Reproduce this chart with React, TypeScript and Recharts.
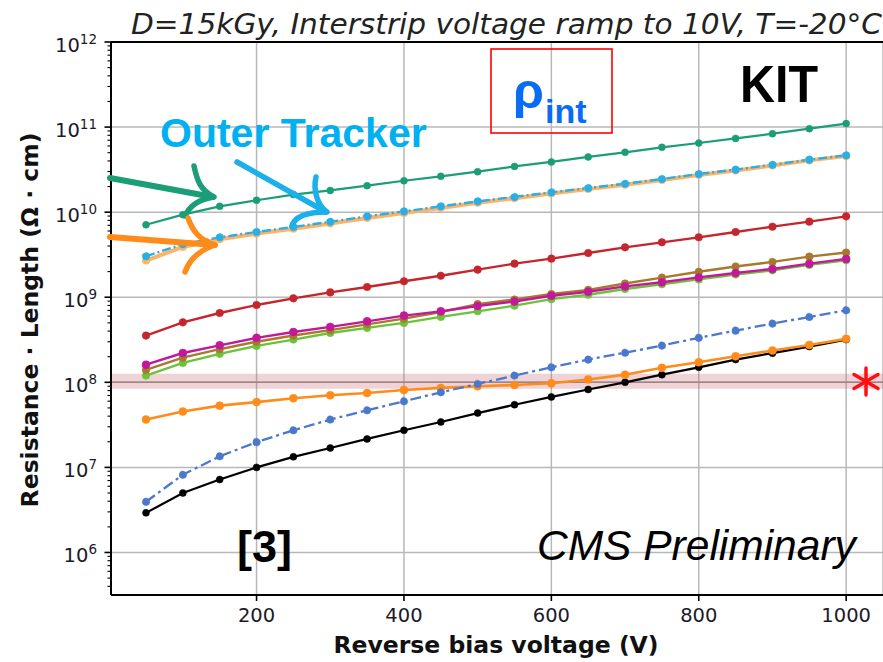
import {
  LineChart, Line, XAxis, YAxis, CartesianGrid, ReferenceArea, ReferenceLine
} from 'recharts';

// reverse bias voltage (V)
const voltages = [50, 100, 150, 200, 250, 300, 350, 400, 450, 500, 550, 600, 650, 700, 750, 800, 850, 900, 950, 1000];

// resistance * length (Ohm cm), one array per sensor
const teal = [7.1e9, 9.35e9, 1.17e10, 1.38e10, 1.61e10, 1.8e10, 2.05e10, 2.34e10, 2.64e10, 2.99e10, 3.45e10, 3.89e10, 4.46e10, 5.05e10, 5.78e10, 6.5e10, 7.36e10, 8.36e10, 9.57e10, 1.1e11];
const skyBlue = [3.03e9, 4.2e9, 5.06e9, 5.85e9, 6.7e9, 7.7e9, 8.93e9, 1.02e10, 1.17e10, 1.34e10, 1.51e10, 1.71e10, 1.92e10, 2.16e10, 2.45e10, 2.81e10, 3.16e10, 3.61e10, 4.14e10, 4.65e10];
const lightOrange = [2.7e9, 3.9e9, 4.8e9, 5.6e9, 6.4e9, 7.35e9, 8.55e9, 9.75e9, 1.12e10, 1.29e10, 1.46e10, 1.66e10, 1.87e10, 2.1e10, 2.39e10, 2.74e10, 3.09e10, 3.53e10, 4.06e10, 4.56e10];
const red = [3.54e8, 5.07e8, 6.53e8, 8.1e8, 9.7e8, 1.14e9, 1.32e9, 1.54e9, 1.79e9, 2.11e9, 2.48e9, 2.84e9, 3.31e9, 3.86e9, 4.42e9, 5.06e9, 5.85e9, 6.75e9, 7.73e9, 8.93e9];
const brown = [1.4e8, 1.95e8, 2.45e8, 3.0e8, 3.55e8, 4.1e8, 4.8e8, 5.6e8, 6.7e8, 8.3e8, 9.4e8, 1.09e9, 1.22e9, 1.45e9, 1.7e9, 1.99e9, 2.3e9, 2.6e9, 3.0e9, 3.35e9];
const magenta = [1.61e8, 2.21e8, 2.72e8, 3.33e8, 3.9e8, 4.48e8, 5.21e8, 6.08e8, 6.83e8, 7.9e8, 8.9e8, 1.04e9, 1.16e9, 1.34e9, 1.5e9, 1.71e9, 1.93e9, 2.15e9, 2.48e9, 2.82e9];
const green = [1.2e8, 1.69e8, 2.16e8, 2.68e8, 3.18e8, 3.8e8, 4.36e8, 4.99e8, 5.87e8, 6.83e8, 7.96e8, 9.5e8, 1.07e9, 1.25e9, 1.42e9, 1.62e9, 1.85e9, 2.07e9, 2.4e9, 2.72e9];
const orange = [3.65e7, 4.53e7, 5.32e7, 5.85e7, 6.5e7, 7.03e7, 7.5e7, 8.13e7, 8.59e7, 8.97e7, 9.31e7, 9.73e7, 1.08e8, 1.23e8, 1.48e8, 1.72e8, 2.02e8, 2.36e8, 2.75e8, 3.24e8];
const blueDash = [3.94e6, 8.2e6, 1.35e7, 1.98e7, 2.73e7, 3.65e7, 4.69e7, 5.98e7, 7.63e7, 9.57e7, 1.2e8, 1.5e8, 1.85e8, 2.23e8, 2.7e8, 3.33e8, 4.05e8, 4.9e8, 5.86e8, 7.02e8];
const black = [2.92e6, 5.0e6, 7.19e6, 1.0e7, 1.33e7, 1.69e7, 2.16e7, 2.73e7, 3.42e7, 4.35e7, 5.45e7, 6.73e7, 8.24e7, 1.0e8, 1.23e8, 1.5e8, 1.85e8, 2.2e8, 2.63e8, 3.18e8];

const xTicks = [200, 400, 600, 800, 1000];
const majorTicks = [1e6, 1e7, 1e8, 1e9, 1e10, 1e11, 1e12];
const yMin = 316228;
const yMax = 1e12;
const limitBand = [8.4e7, 1.26e8];

const minorTicks: number[] = [];
for (let e = 5; e <= 11; e++) {
  for (let k = 2; k <= 9; k++) {
    const v = k * Math.pow(10, e);
    if (v >= yMin && v <= yMax) minorTicks.push(v);
  }
}
const yTicks = [...majorTicks, ...minorTicks].sort((a, b) => a - b);

const series = [
  { key: 'black', values: black, color: '#000000', width: 2.2, r: 3.5 },
  { key: 'orange', values: orange, color: '#ff8c1a', width: 2.6, r: 4 },
  { key: 'blueDash', values: blueDash, color: '#4a78cc', width: 2.3, r: 3.8, dash: '11 4 3 4' },
  { key: 'green', values: green, color: '#6cc23a', width: 2.4, r: 3.8 },
  { key: 'brown', values: brown, color: '#a8792a', width: 2.4, r: 3.8 },
  { key: 'magenta', values: magenta, color: '#c2189a', width: 2.4, r: 4 },
  { key: 'red', values: red, color: '#c4262e', width: 2.4, r: 3.8 },
  { key: 'lightOrange', values: lightOrange, color: '#ffb366', width: 4, r: 3.8 },
  { key: 'skyBlue', values: skyBlue, color: '#2aaee6', width: 2.4, r: 3.8, dash: '9 3 2 3' },
  { key: 'teal', values: teal, color: '#1b9e77', width: 2.2, r: 3.5 },
];

const data = voltages.map((v, i) => {
  const row: Record<string, number> = { v };
  series.forEach(s => { row[s.key] = s.values[i]; });
  return row;
});

const YTick = ({ x, y, payload }: any) => {
  const v = payload.value;
  const exp = Math.round(Math.log10(v));
  const major = Math.abs(v - Math.pow(10, exp)) < 1e-6 * v;
  return (
    <g>
      <line x1={x - (major ? 6.5 : 3.5)} x2={x} y1={y} y2={y} stroke="#000" strokeWidth={major ? 1.6 : 1.1} />
      {major && (
        <text x={x - 14} y={y + 9.5} textAnchor="end" fontFamily="DejaVu Sans" fontSize={19.5} fill="#1a1a2a">
          10<tspan dy={-8} fontSize={13.5}>{exp}</tspan>
        </text>
      )}
    </g>
  );
};

const gridY = (p: any) => {
  const s = p?.yAxis?.scale;
  try {
    if (typeof s === 'function') return majorTicks.map(v => s(v));
    if (s && typeof s.map === 'function') return majorTicks.map(v => s.map(v));
  } catch (e) { /* ignore */ }
  return [];
};

const arrowHead = (d: string, color: string) => (
  <path d={d} fill="none" stroke={color} strokeWidth={5.5} strokeLinecap="round" strokeLinejoin="round" />
);

export default function App() {
  return (
    <div style={{ position: 'absolute', left: 0, top: 0, width: 883, height: 662, background: '#fff' }}>
      <LineChart width={883} height={662} data={data} margin={{ top: 42, right: 0, left: 0, bottom: 0 }}>
        <CartesianGrid stroke="#b8b8b8" strokeWidth={1.5} horizontalCoordinatesGenerator={gridY} />
        <ReferenceArea y1={limitBand[0]} y2={limitBand[1]} fill="#c8606a" fillOpacity={0.28} stroke="none" />
        <ReferenceLine y={1e8} stroke="#9c8487" strokeWidth={1.5} />
        <XAxis dataKey="v" type="number" domain={[2.5, 1050]} ticks={xTicks} interval={0}
          height={67} tickSize={6} tickMargin={7}
          tick={{ fontSize: 19.5, fill: '#1a1a2a', fontFamily: 'DejaVu Sans' }}
          axisLine={{ stroke: '#000', strokeWidth: 2 }} tickLine={{ stroke: '#000', strokeWidth: 1.6 }} />
        <YAxis type="number" scale="log" domain={[yMin, yMax]} allowDataOverflow ticks={yTicks} interval={0}
          width={111} tickSize={0} tickMargin={0} tick={<YTick />} tickLine={false}
          axisLine={{ stroke: '#000', strokeWidth: 2 }} />
        <ReferenceLine y={yMax} stroke="#000" strokeWidth={2} />
        {series.map(s => (
          <Line key={s.key} dataKey={s.key} type="linear" stroke={s.color} strokeWidth={s.width}
            strokeDasharray={s.dash} isAnimationActive={false}
            dot={{ r: s.r, fill: s.color, stroke: s.color, strokeWidth: 0.5 }} activeDot={false} />
        ))}
      </LineChart>
      <svg width={883} height={662} style={{ position: 'absolute', left: 0, top: 0, pointerEvents: 'none' }}>
        <text x={131} y={34} fontFamily="DejaVu Sans" fontStyle="italic" fontSize={29} fill="#222"
          textLength={751} lengthAdjust="spacingAndGlyphs">D=15kGy, Interstrip voltage ramp to 10V, T=-20°C</text>
        <text x={496} y={653} textAnchor="middle" fontFamily="DejaVu Sans" fontWeight="bold" fontSize={23.5} fill="#111">
          Reverse bias voltage (V)
        </text>
        <text transform="translate(38,320) rotate(-90)" textAnchor="middle" fontFamily="DejaVu Sans" fontWeight="bold"
          fontSize={23.5} fill="#111">Resistance · Length (Ω · cm)</text>

        <text x={160} y={147} fontFamily="Liberation Sans" fontWeight="bold" fontSize={41} fill="#00b0f0">Outer Tracker</text>
        <text x={740} y={101.5} fontFamily="Liberation Sans" fontWeight="bold" fontSize={52} fill="#000"
          textLength={78} lengthAdjust="spacingAndGlyphs">KIT</text>
        <rect x={491} y={49} width={121} height={84} fill="none" stroke="#ff0000" strokeWidth={1.6} />
        <text x={513} y={108} fontFamily="Liberation Sans" fontWeight="bold" fontSize={50} fill="#0a6cf5">ρ</text>
        <text x={545} y={123} fontFamily="Liberation Sans" fontWeight="bold" fontSize={34} fill="#0a6cf5">int</text>
        <text x={237} y={562} fontFamily="Liberation Sans" fontWeight="bold" fontSize={45} fill="#000">[3]</text>
        <text x={537} y={560} fontFamily="Liberation Sans" fontStyle="italic" fontSize={42.5} fill="#000">CMS Preliminary</text>

        <line x1={110} y1={178} x2={213} y2={197} stroke="#1b9e77" strokeWidth={6} strokeLinecap="round" />
        {arrowHead('M194,166 C197,180 200,190 214,197 C200,199 190,205 185,216', '#1b9e77')}
        <line x1={237} y1={162} x2={326} y2={212} stroke="#1cb0ea" strokeWidth={5.5} strokeLinecap="round" />
        {arrowHead('M316,177 C313,190 317,205 327,212 C310,212 295,215 292,226', '#1cb0ea')}
        <line x1={110} y1={237} x2={215} y2={245} stroke="#ff8c1a" strokeWidth={6} strokeLinecap="round" />
        {arrowHead('M188,218 C193,232 200,240 215,245 C200,250 190,258 185,272', '#ff8c1a')}

        <g stroke="#ff1010" strokeWidth={3.5} strokeLinecap="round">
          <line x1={866} y1={368} x2={866} y2={395} />
          <line x1={854} y1={374.5} x2={878} y2={388.5} />
          <line x1={854} y1={388.5} x2={878} y2={374.5} />
        </g>
      </svg>
    </div>
  );
}
